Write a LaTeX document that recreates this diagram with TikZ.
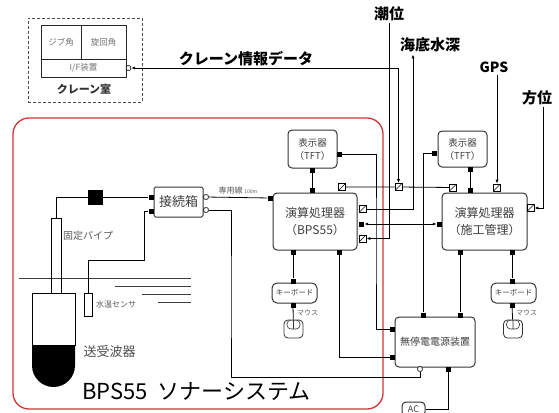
\documentclass[tikz,border=0pt]{standalone}
\usepackage{fontspec}
\setmainfont{Noto Sans CJK JP}
\usetikzlibrary{arrows.meta,positioning}
\definecolor{sonar red}{RGB}{208,52,52}

\begin{document}
\begin{tikzpicture}[x=1pt,y=-1pt,
    proc box/.style={draw=black!80, line width=1pt, rounded corners=4pt, fill=white, align=center, inner sep=0pt, text=black!75},
    plain box/.style={draw=black!85, line width=0.9pt, fill=white, inner sep=0pt, align=center, text=black!55, font=\fontsize{8.5}{9}\selectfont},
    fport/.style={fill=black, minimum size=5pt, inner sep=0pt},
    oport/.style={draw, fill=white, line width=0.6pt, minimum size=4.5pt, inner sep=0pt, rounded corners=1pt},
    xport/.style={draw, fill=white, line width=0.6pt, minimum size=7pt, inner sep=0pt,
      path picture={\draw[line width=0.5pt] (path picture bounding box.south west) -- (path picture bounding box.north east);}},
    mouse/.style={draw=black!80, line width=0.8pt, fill=white, rounded corners=4pt, minimum width=19pt, minimum height=18pt, inner sep=0pt,
      path picture={\draw[line width=0.6pt] ([xshift=3pt]path picture bounding box.north west) rectangle ([xshift=-3pt]path picture bounding box.east)
        (path picture bounding box.north) -- (path picture bounding box.center);}},
    wire/.style={line width=0.8pt},
    sig/.style={wire, -{Latex[length=4pt,width=3pt]}},
    duplex/.style={wire, {Latex[length=4pt,width=3pt]}-{Latex[length=4pt,width=3pt]}},
    outer label/.style={font=\bfseries\fontsize{15}{15}\selectfont, inner sep=2pt},
    small note/.style={font=\fontsize{8}{8}\selectfont, text=black!65, inner sep=1pt}]

  \useasboundingbox (0,0) rectangle (559,412);

  % crane cabin
  \node[draw=black!70, densely dashed, line width=0.7pt, minimum width=114pt, minimum height=84pt] (craneroom) at (85,60) {};
  \node[plain box, minimum width=40pt, minimum height=34pt] (jib) at (61,42) {ジブ角};
  \node[plain box, minimum width=45pt, minimum height=34pt] (slew) at (103.5,42) {旋回角};
  \node[plain box, minimum width=85pt, minimum height=18pt] (ifdev) at (83.5,68) {I/F装置};
  \node[font=\bfseries\fontsize{11}{11}\selectfont, text=black!80] (cabinlabel) at (84,89) {クレーン室};
  \node[oport] (ifport) at (128.5,68) {};

  % sonar system frame
  \draw[sonar red, line width=1.3pt, rounded corners=16pt] (13,118) rectangle (383,409);
  \node[font=\fontsize{22}{22}\selectfont, anchor=base west, inner sep=0pt] (sonarlabel) at (82,399) {BPS55\hspace{10pt}ソナーシステム};

  % water surface
  \draw[line width=0.9pt, black!75] (19,278) -- (191,278) (115,286) -- (191,286) (142,294) -- (191,294) (158,302) -- (191,302);

  % transducer on its pipe
  \draw[line width=0.9pt] (32,293) rectangle (75,345);
  \fill (32,345) -- (75,345) -- (75,365.5) arc[start angle=0, end angle=180, radius=21.5] -- cycle;
  \node[draw, line width=0.8pt, minimum width=10pt, minimum height=75pt, inner sep=0pt] (pipe) at (56,255.5) {};
  \node[small note, font=\fontsize{10}{10}\selectfont, anchor=west] (pipelabel) at (62,236) {固定パイプ};
  \node[font=\fontsize{13}{13}\selectfont, text=black!70, anchor=west] (xdcrlabel) at (80,352) {送受波器};
  \node[draw, line width=0.8pt, fill=white, minimum width=8pt, minimum height=23pt, inner sep=0pt] (sensor) at (88,304.5) {};
  \node[small note, anchor=west] (sensorlabel) at (95,304) {水温センサ};
  \node[fill=black, minimum size=15pt, inner sep=0pt] (block) at (95.5,197) {};

  % junction box
  \node[proc box, rounded corners=1.5pt, minimum width=49pt, minimum height=30pt, font=\fontsize{13}{13}\selectfont] (jbox) at (178.5,202) {接続箱};
  \node[fport] (jbl1) at (151,197) {};
  \node[fport] (jbl2) at (151,211) {};
  \node[oport] (jbr1) at (206,197) {};
  \node[oport] (jbr2) at (206,210) {};

  % processors and displays
  \node[proc box, minimum width=84pt, minimum height=57pt, font=\fontsize{12}{17}\selectfont] (bps) at (315,221.5) {演算処理器\\（BPS55）};
  \node[proc box, minimum width=85pt, minimum height=57pt, font=\fontsize{12}{17}\selectfont] (mgmt) at (484.5,221.5) {演算処理器\\（施工管理）};
  \node[proc box, minimum width=49pt, minimum height=38pt, font=\fontsize{9.5}{13}\selectfont] (tft1) at (312.5,149) {表示器\\（TFT）};
  \node[proc box, minimum width=49pt, minimum height=36pt, font=\fontsize{9.5}{13}\selectfont] (tft2) at (462.5,149) {表示器\\（TFT）};
  \node[proc box, rounded corners=5pt, minimum width=45pt, minimum height=20pt, font=\fontsize{7.5}{8}\selectfont] (kb1) at (294.5,293) {キーボード};
  \node[proc box, rounded corners=5pt, minimum width=45pt, minimum height=20pt, font=\fontsize{7.5}{8}\selectfont] (kb2) at (513.5,293) {キーボード};
  \node[mouse] (mouse1) at (293.5,329) {};
  \node[mouse] (mouse2) at (513,329) {};
  \node[small note, font=\fontsize{7}{7}\selectfont, anchor=west] (mouselabel1) at (296,313) {マウス};
  \node[small note, font=\fontsize{7}{7}\selectfont, anchor=west] (mouselabel2) at (515,313) {マウス};
  \node[proc box, minimum width=80pt, minimum height=50pt, font=\fontsize{10}{10}\selectfont] (ups) at (435,342) {無停電電源装置};
  \node[proc box, minimum width=23pt, minimum height=14pt, font=\fontsize{9}{9}\selectfont] (ac) at (413.5,409) {AC};

  \node[fport] (bpsl) at (270,198) {};
  \node[fport] (bpst) at (312,190.5) {};
  \node[xport] (bpsxt) at (342,187) {};
  \node[xport] (bpsx1) at (362.5,209) {};
  \node[fport] (bpsf) at (361.5,224) {};
  \node[xport] (bpsx2) at (362.5,238.5) {};
  \node[fport] (bpsb1) at (293,252) {};
  \node[fport] (bpsb2) at (339,252) {};
  \node[fport] (tft1b) at (312,170.5) {};
  \node[fport] (tft1r) at (339.5,154) {};
  \node[xport] (split) at (398.5,187) {};
  \node[xport] (mgmtxl) at (453,187.5) {};
  \node[fport] (mgmtt) at (470,190.5) {};
  \node[xport] (mgmtxr) at (497,187.5) {};
  \node[xport] (mgmtxe) at (530.5,208) {};
  \node[fport] (mgmtl) at (439.5,224) {};
  \node[fport] (mgmtb1) at (460,252) {};
  \node[fport] (mgmtb2) at (512,252) {};
  \node[fport] (tft2b) at (470,169.5) {};
  \node[fport] (tft2l) at (434.5,153) {};
  \node[fport] (kb1t) at (293,281) {};
  \node[fport] (kb1b) at (293,305.5) {};
  \node[fport] (kb2t) at (512,281) {};
  \node[fport] (kb2b) at (512,305.5) {};
  \node[fport] (upst1) at (423,315) {};
  \node[fport] (upst2) at (460,315) {};
  \node[fport] (upsl1) at (392.5,329) {};
  \node[fport] (upsl2) at (392.5,357) {};
  \node[oport] (upsob) at (420,369) {};
  \node[fport] (upsfb) at (448,369) {};

  % outside signals
  \node[outer label] (tide) at (389,14) {潮位};
  \node[outer label] (depth) at (430,45) {海底水深};
  \node[outer label, font=\bfseries\fontsize{14}{14}\selectfont] (gps) at (494,67) {GPS};
  \node[outer label] (heading) at (537,98) {方位};
  \node[outer label, font=\bfseries\fontsize{15}{15}\selectfont] (cranedata) at (246,59) {クレーン情報データ};
  \node[small note, anchor=south] (cablelabel) at (238,195) {専用線 {\fontsize{5}{5}\selectfont 100m}};

  \coordinate (b1) at (376,240);
  \coordinate (b2) at (231,300);
  \coordinate (b3) at (420,377);
  \coordinate (b4) at (144,260);

  \draw[duplex] (split) |- (ifport);
  \draw[wire] (bpsxt) -- (split) -- (mgmtxl);
  \draw[sig] (tide.south) |- (bpsx2);
  \draw[sig] (bpsx1) -| ([xshift=-17pt]depth.south);
  \draw[sig] (gps.south -| mgmtxr) -- (mgmtxr);
  \draw[sig] ([xshift=6pt]heading.south) |- (mgmtxe);
  \draw[duplex] (bpsf) -- (mgmtl);

  \draw[wire] (tft1b) -- (bpst);
  \draw[wire] (tft2b) -- (mgmtt);
  \draw[wire] (tft1r) -| (b1) |- (upsl1);
  \draw[wire] (tft2l) -| (upst1);
  \draw[wire] (mgmtb1) -- (upst2);
  \draw[wire] (mgmtb2) -- (kb2t);
  \draw[wire] (kb2b) -- (mouse2);
  \draw[wire] (bpsb1) -- (kb1t);
  \draw[wire] (kb1b) -- (mouse1);
  \draw[wire] (bpsb2) |- (upsl2);
  \draw[wire] (upsfb) |- (ac);

  \draw[wire] (jbr1) -- (bpsl);
  \draw[wire] (jbr2) -| (b2) |- (b3) -- (upsob);
  \draw[wire] (jbl1) -- (block) -| (pipe);
  \draw[wire] (jbl2) -| (b4) -| (sensor);
\end{tikzpicture}
\end{document}
